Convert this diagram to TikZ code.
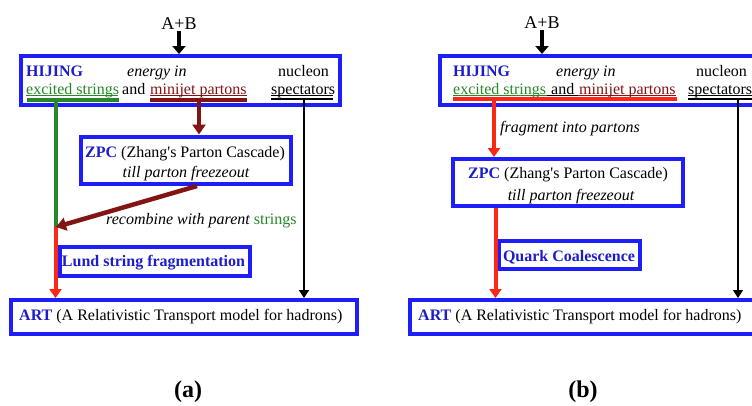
\documentclass[tikz,border=0pt]{standalone}
\usepackage{fontspec}
\setmainfont{Liberation Serif}
\usetikzlibrary{arrows.meta}
\definecolor{boxblue}{RGB}{30,30,250}
\definecolor{txtblue}{RGB}{30,30,200}
\definecolor{strgreen}{RGB}{40,135,40}
\definecolor{jetred}{RGB}{130,20,20}
\definecolor{flowred}{RGB}{250,40,20}
\begin{document}
\begin{tikzpicture}[x=1pt,y=-1pt,
  bluebox/.style={draw=boxblue,line width=4pt,fill=white,inner sep=0pt},
  txt/.style={inner sep=0pt,anchor=base west,font=\fontsize{16}{19}\selectfont},
  ctxt/.style={inner sep=0pt,anchor=base,font=\fontsize{16}{19}\selectfont},
  abtxt/.style={inner sep=0pt,anchor=base,font=\fontsize{18}{21}\selectfont},
  hl/.style={font=\fontsize{16}{19}\selectfont\bfseries,text=txtblue},
  thinul/.style={line width=0.8pt},
  greenline/.style={draw=strgreen,line width=4pt},
  redarrow/.style={draw=flowred,line width=4pt,-{Triangle[width=12pt,length=9pt]}},
  jetarrow/.style={draw=jetred,line width=4.5pt,-{Triangle[width=13pt,length=10pt]}},
  blackarrow/.style={draw=black,line width=1.5pt,-{Triangle[width=10pt,length=8pt]}},
  inarrow/.style={draw=black,line width=3.5pt,-{Triangle[width=13pt,length=8pt]}},
  panel/.style={inner sep=0pt,anchor=base,font=\fontsize{24}{28}\selectfont\bfseries}
]
\useasboundingbox (0,0) rectangle (752,405);
\fill[white] (0,0) rectangle (752,405);
\begin{scope}
\clip (0,0) rectangle (752,405);

% ================= panel (a) =================
\node[bluebox,minimum width=319pt,minimum height=49pt] (hijA) at (180.5,80.5) {};
\node[bluebox,minimum width=210pt,minimum height=47pt] (zpcA) at (186,160) {};
\node[bluebox,minimum width=190.5pt,minimum height=29pt] (lundA) at (154.75,261) {};
\node[bluebox,minimum width=346pt,minimum height=34pt] (artA) at (184,317) {};

\node[abtxt] (abA) at (179,29) {A+B};
\draw[inarrow] ([yshift=-2pt]abA.south) -- (abA.south |- hijA.north);

\node[txt,hl] (hA) at (26,76) {HIJING};
\node[txt,font=\fontsize{16}{19}\selectfont\itshape] (eA) at (127,76) {energy in};
\node[txt] (nA) at (278,76) {nucleon};
\node[txt,text=strgreen] (esA) at (26,94) {excited strings};
\node[txt] (andA) at (122,94) {and};
\node[txt,text=jetred] (mpA) at (150,94) {minijet partons};
\node[txt] (spA) at (271,94) {spectators};
\draw[thinul,strgreen] (26,95.3) -- (118,95.3);
\draw[thinul,jetred] (150,95.3) -- (247,95.3);
\draw[thinul] (271,95.3) -- (333,95.3);
\draw[strgreen,line width=4pt] (27,99.5) -- (119,99.5);
\draw[jetred,line width=4pt] (150,99.5) -- (247,99.5);
\draw[black,line width=2pt] (271,99) -- (333,99);

\node[txt] (zA) at (85,157) {\textcolor{txtblue}{\bfseries ZPC} (Zhang\textquotesingle s Parton Cascade)};
\node[ctxt,font=\fontsize{16}{19}\selectfont\itshape] (zA2) at (186,177) {till parton freezeout};
\node[txt,font=\fontsize{16}{19}\selectfont\itshape] (recA) at (106,224) {recombine with parent \textcolor{strgreen}{\upshape strings}};
\node[ctxt,hl] (lA) at (153.5,266) {Lund string fragmentation};
\node[txt] (aA) at (19,320) {\textcolor{txtblue}{\bfseries ART} (A Relativistic Transport model for hadrons)};

\coordinate (gA) at (55.5,97.5);
\coordinate (jA) at (55.5,227);
\coordinate (mA) at (199,99);
\coordinate (zbA) at (197,186);
\coordinate (tipA) at (56,227);
\coordinate (sA) at (304,100);
\draw[greenline] (gA) -- (jA);
\draw[redarrow] (jA) -- (jA |- artA.north);
\draw[jetarrow] (mA) -- (mA |- zpcA.north);
\draw[jetarrow] (zbA) -- (tipA);
\draw[blackarrow] (sA) -- (sA |- artA.north);

\node[panel] (pa) at (188,397) {(a)};

% ================= panel (b) =================
\node[bluebox,minimum width=320pt,minimum height=49pt] (hijB) at (600,80.5) {};
\node[bluebox,minimum width=230pt,minimum height=47pt] (zpcB) at (568,182.5) {};
\node[bluebox,minimum width=141pt,minimum height=28pt] (qcB) at (569.5,255) {};
\node[bluebox,minimum width=346pt,minimum height=34pt] (artB) at (583,317) {};

\node[abtxt] (abB) at (542,28) {A+B};
\draw[inarrow] ([yshift=-2pt]abB.south) -- (abB.south |- hijB.north);

\node[txt,hl] (hB) at (453,76) {HIJING};
\node[txt,font=\fontsize{16}{19}\selectfont\itshape] (eB) at (556,76) {energy in};
\node[txt] (nB) at (696,76) {nucleon};
\node[txt,text=strgreen] (esB) at (453,94) {excited strings};
\node[txt] (andB) at (551,94) {and};
\node[txt,text=jetred] (mpB) at (579,94) {minijet partons};
\node[txt] (spB) at (688,94) {spectators};
\draw[thinul,strgreen] (453,95.3) -- (547,95.3);
\draw[thinul] (547,95.3) -- (578,95.3);
\draw[thinul,jetred] (578,95.3) -- (676,95.3);
\draw[thinul] (688,95.3) -- (760,95.3);
\draw[flowred,line width=4.5pt] (453,99) -- (677,99);
\draw[black,line width=2pt] (688,99) -- (760,99);

\node[txt,font=\fontsize{16}{19}\selectfont\itshape] (frB) at (500,132) {fragment into partons};
\node[txt] (zB) at (468,178) {\textcolor{txtblue}{\bfseries ZPC} (Zhang\textquotesingle s Parton Cascade)};
\node[ctxt,font=\fontsize{16}{19}\selectfont\itshape] (zB2) at (571,200) {till parton freezeout};
\node[ctxt,hl] (qB) at (569,261) {Quark Coalescence};
\node[txt] (aB) at (418,320) {\textcolor{txtblue}{\bfseries ART} (A Relativistic Transport model for hadrons)};

\coordinate (fB) at (494,100);
\coordinate (zbB) at (495.5,208);
\coordinate (sB) at (738,100);
\draw[redarrow] (fB) -- (fB |- zpcB.north);
\draw[redarrow] (zbB) -- (zbB |- artB.north);
\draw[blackarrow] (sB) -- (sB |- artB.north);

\node[panel] (pb) at (583,397) {(b)};
\end{scope}
\end{tikzpicture}
\end{document}
